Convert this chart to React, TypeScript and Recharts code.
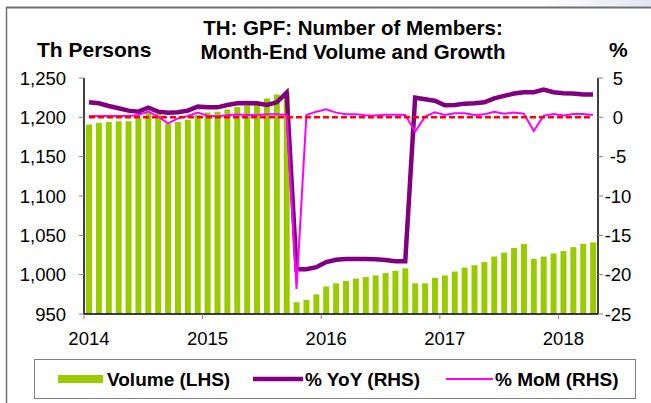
import React from 'react';
import { ComposedChart, Bar, Line, XAxis, YAxis, ReferenceLine } from 'recharts';

const YEARS = ['2014', '2015', '2016', '2017', '2018'];
const MONTHS = ['01', '02', '03', '04', '05', '06', '07', '08', '09', '10', '11', '12'];
const YEAR_TICKS = YEARS.map((y) => `${y}-01`);

// Th persons, month-end
const volume = [
  1191, 1193, 1194, 1195, 1195, 1199, 1206, 1205, 1192, 1194, 1197, 1203,
  1206, 1207, 1210, 1213, 1215, 1218, 1224, 1229, 1232, 965, 968, 975,
  985, 989, 992, 995, 997, 999, 1002, 1005, 1008, 989, 989, 996,
  999, 1004, 1009, 1012, 1016, 1023, 1028, 1034, 1039, 1020, 1023, 1027,
  1030, 1035, 1039, 1041,
];

// % YoY
const yoy = [
  1.91, 1.78, 1.44, 1.15, 0.85, 0.72, 1.23, 0.72, 0.59, 0.64, 0.85, 1.36,
  1.27, 1.27, 1.57, 1.78, 1.83, 1.78, 1.57, 1.91, 3.14, -19.3, -19.3, -19.05,
  -18.4, -18.1, -18.0, -18.0, -18.0, -18.05, -18.15, -18.3, -18.3, 2.5, 2.3, 2.12,
  1.53, 1.57, 1.74, 1.78, 1.91, 2.42, 2.72, 3.02, 3.19, 3.19, 3.53, 3.19,
  3.06, 3.02, 2.89, 2.89,
];

// % MoM
const mom = [
  0.17, 0.17, 0.17, 0.17, 0.17, 0.29, 0.72, 0.09, -0.77, -0.13, 0.17, 0.6,
  0.2, 0.15, 0.25, 0.35, 0.3, 0.3, 0.38, 0.38, 0.3, -21.8, 0.3, 0.72,
  1.02, 0.6, 0.38, 0.38, 0.25, 0.22, 0.34, 0.34, 0.3, -1.83, 0.09, 0.63,
  0.3, 0.51, 0.51, 0.3, 0.38, 0.72, 0.47, 0.6, 0.47, -1.75, 0.22, 0.43,
  0.22, 0.43, 0.43, 0.3,
];

const LEFT_TICKS = [950, 1000, 1050, 1100, 1150, 1200, 1250];
const RIGHT_TICKS = [-25, -20, -15, -10, -5, 0, 5];

const months = YEARS.flatMap((y) => MONTHS.map((m) => `${y}-${m}`)).slice(0, volume.length);
const data = months.map((month, i) => ({ month, volume: volume[i], yoy: yoy[i], mom: mom[i] }));

const FONT = 'Arial, "Liberation Sans", sans-serif';
const W = 651;
const H = 403;
const PLOT_LEFT = 84;
const PLOT_RIGHT = 598;
const PLOT_TOP = 78;
const PLOT_BOTTOM = 314;
const BAND = (PLOT_RIGHT - PLOT_LEFT) / data.length;

const XTick = (props: any) => {
  const { x, payload } = props;
  const tx = x - BAND / 2;
  return (
    <g>
      <line x1={tx} x2={tx} y1={PLOT_BOTTOM} y2={PLOT_BOTTOM + 5} stroke="#808080" />
      <text x={x} y={PLOT_BOTTOM + 31} textAnchor="middle" fontSize={18.5} fontFamily={FONT} fill="#000">
        {String(payload.value).slice(0, 4)}
      </text>
    </g>
  );
};

const LeftTick = (props: any) => {
  const { y, payload } = props;
  return (
    <text x={PLOT_LEFT - 18} y={y} dy="0.36em" textAnchor="end" fontSize={18.5} fontFamily={FONT} fill="#000">
      {payload.value.toLocaleString('en-US')}
    </text>
  );
};

const RightTick = (props: any) => {
  const { y, payload } = props;
  return (
    <text x={PLOT_RIGHT + 20} y={y} dy="0.36em" textAnchor="middle" fontSize={18.5} fontFamily={FONT} fill="#000">
      {payload.value}
    </text>
  );
};

export default function App() {
  return (
    <div style={{ position: 'absolute', left: 0, top: 0, width: W, height: H, background: '#fff' }}>
      <ComposedChart
        width={W}
        height={H}
        data={data}
        margin={{ top: PLOT_TOP, right: 0, bottom: 0, left: 0 }}
        barCategoryGap={0}
      >
        <XAxis
          dataKey="month"
          ticks={YEAR_TICKS}
          interval={0}
          height={H - PLOT_BOTTOM}
          axisLine={{ stroke: '#000', strokeWidth: 1.5 }}
          tickLine={false}
          tick={<XTick />}
        />
        <YAxis
          yAxisId="left"
          orientation="left"
          width={PLOT_LEFT}
          domain={[950, 1250]}
          ticks={LEFT_TICKS}
          allowDataOverflow
          axisLine={{ stroke: '#000', strokeWidth: 1.5 }}
          tickLine={{ stroke: '#808080' }}
          tickSize={5}
          tick={<LeftTick />}
        />
        <YAxis
          yAxisId="right"
          orientation="right"
          width={W - PLOT_RIGHT}
          domain={[-25, 5]}
          ticks={RIGHT_TICKS}
          allowDataOverflow
          axisLine={{ stroke: '#000', strokeWidth: 1.5 }}
          tickLine={{ stroke: '#808080' }}
          tickSize={5}
          tick={<RightTick />}
        />
        <Bar yAxisId="left" dataKey="volume" fill="#99cc00" barSize={6} isAnimationActive={false} />
        <Line
          yAxisId="right"
          type="linear"
          dataKey="yoy"
          stroke="#800080"
          strokeWidth={4.5}
          dot={false}
          activeDot={false}
          isAnimationActive={false}
        />
        <Line
          yAxisId="right"
          type="linear"
          dataKey="mom"
          stroke="#ff00ff"
          strokeWidth={2}
          dot={false}
          activeDot={false}
          isAnimationActive={false}
        />
        <ReferenceLine
          yAxisId="right"
          segment={[
            { x: months[0], y: 0 },
            { x: months[months.length - 1], y: 0 },
          ]}
          stroke="#ff0000"
          strokeWidth={2.5}
          strokeDasharray="6 3"
        />
      </ComposedChart>

      <svg
        width={W}
        height={H}
        style={{ position: 'absolute', left: 0, top: 0, pointerEvents: 'none' }}
        fontFamily={FONT}
      >
        <defs>
          <linearGradient id="glow" x1="0" x2="1" y1="0" y2="0">
            <stop offset="0" stopColor="#ffffff" />
            <stop offset="1" stopColor="#e4e4f2" />
          </linearGradient>
        </defs>
        <rect x={540} y={0} width={111} height={6.5} fill="url(#glow)" />
        <line x1={6} x2={W} y1={7.5} y2={7.5} stroke="#707070" strokeWidth={2} />
        <line x1={6.5} x2={6.5} y1={7} y2={H} stroke="#707070" strokeWidth={1.5} />

        <text x={353} y={35} textAnchor="middle" fontSize={20.5} fontWeight="bold">
          TH: GPF: Number of Members:
        </text>
        <text x={353} y={59} textAnchor="middle" fontSize={20.5} fontWeight="bold">
          Month-End Volume and Growth
        </text>
        <text x={37} y={57} fontSize={21} fontWeight="bold">
          Th Persons
        </text>
        <text x={609} y={57} fontSize={21} fontWeight="bold">
          %
        </text>

        <rect x={34.5} y={359.5} width={601} height={39} fill="none" stroke="#808080" />
        <rect x={58} y={375} width={45} height={8} fill="#99cc00" />
        <text x={107} y={386} fontSize={19} fontWeight="bold">
          Volume (LHS)
        </text>
        <line x1={253} x2={303} y1={379} y2={379} stroke="#800080" strokeWidth={4.5} />
        <text x={305} y={386} fontSize={19} fontWeight="bold">
          % YoY (RHS)
        </text>
        <line x1={446} x2={493} y1={379} y2={379} stroke="#ff00ff" strokeWidth={2} />
        <text x={495} y={386} fontSize={19} fontWeight="bold">
          % MoM (RHS)
        </text>
      </svg>
    </div>
  );
}
